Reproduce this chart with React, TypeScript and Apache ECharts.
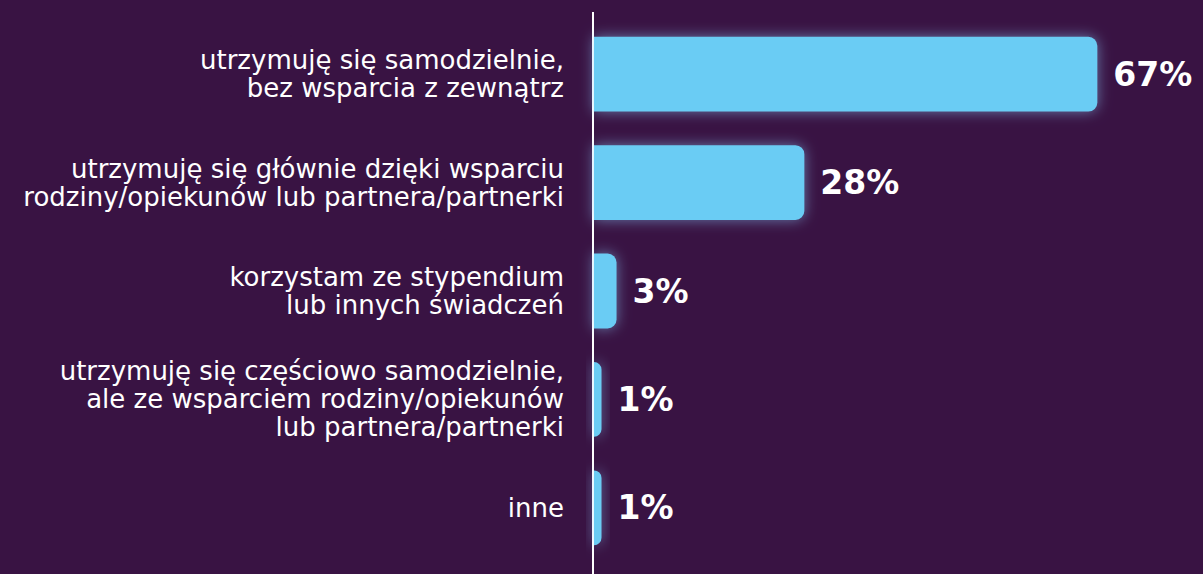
import React, { useEffect, useRef } from "react";
import * as echarts from "echarts";

const categories: string[] = [
  "utrzymuję się samodzielnie,\nbez wsparcia z zewnątrz",
  "utrzymuję się głównie dzięki wsparciu\nrodziny/opiekunów lub partnera/partnerki",
  "korzystam ze stypendium\nlub innych świadczeń",
  "utrzymuję się częściowo samodzielnie,\nale ze wsparciem rodziny/opiekunów\nlub partnera/partnerki",
  "inne",
];
const values: number[] = [67, 28, 3, 1, 1];

export default function App() {
  const ref = useRef<HTMLDivElement>(null);
  useEffect(() => {
    document.body.style.margin = "0";
    const chart = echarts.init(ref.current!, null, { renderer: "svg" });
    chart.setOption({
      animation: false,
      backgroundColor: "#391343",
      graphic: [
        {
          type: "line",
          shape: { x1: 593, y1: 12, x2: 593, y2: 574 },
          style: { stroke: "#ffffff", lineWidth: 2 },
        },
      ],
      grid: { left: 594, right: 8, top: 20, bottom: 12, containLabel: false },
      xAxis: {
        type: "value",
        min: 0,
        max: 80,
        show: false,
      },
      yAxis: {
        type: "category",
        inverse: true,
        data: categories,
        axisLine: { show: false },
        axisTick: { show: false },
        axisLabel: {
          color: "#ffffff",
          fontFamily: "DejaVu Sans",
          fontWeight: "normal",
          fontSize: 26,
          lineHeight: 28,
          align: "right",
          margin: 30,
        },
      },
      series: [
        {
          type: "bar",
          data: values,
          barWidth: "69%",
          itemStyle: {
            color: "#6bccf4",
            borderRadius: [0, 9, 9, 0],
            shadowBlur: 14,
            shadowColor: "rgba(140, 210, 255, 0.55)",
          },
          label: {
            show: true,
            position: "right",
            distance: 16,
            formatter: "{c}%",
            color: "#ffffff",
            fontFamily: "DejaVu Sans",
            fontWeight: "bold",
            fontSize: 33,
          },
        },
      ],
    });
    return () => chart.dispose();
  }, []);
  return (
    <div
      ref={ref}
      style={{ position: "fixed", left: 0, top: 0, width: 1203, height: 574 }}
    />
  );
}
